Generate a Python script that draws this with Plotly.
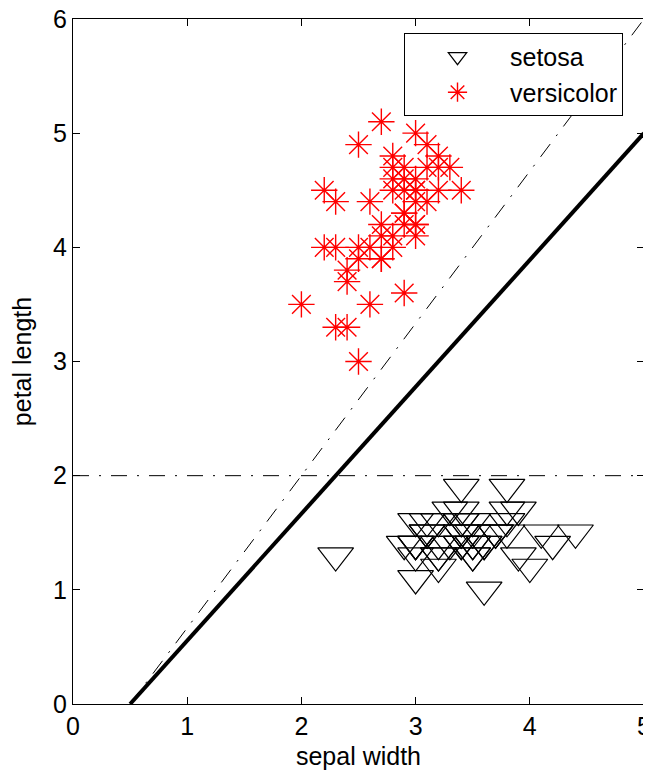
import plotly.graph_objects as go

# Fisher iris: sepal width vs petal length
setosa_sw = [3.5, 3.0, 3.2, 3.1, 3.6, 3.9, 3.4, 3.4, 2.9, 3.1, 3.7, 3.4, 3.0, 3.0, 4.0,
             4.4, 3.9, 3.5, 3.8, 3.8, 3.4, 3.7, 3.6, 3.3, 3.4, 3.0, 3.4, 3.5, 3.4, 3.2,
             3.1, 3.4, 4.1, 4.2, 3.1, 3.2, 3.5, 3.6, 3.0, 3.4, 3.5, 2.3, 3.2, 3.5, 3.8,
             3.0, 3.8, 3.2, 3.7, 3.3]
setosa_pl = [1.4, 1.4, 1.3, 1.5, 1.4, 1.7, 1.4, 1.5, 1.4, 1.5, 1.5, 1.6, 1.4, 1.1, 1.2,
             1.5, 1.3, 1.4, 1.7, 1.5, 1.7, 1.5, 1.0, 1.7, 1.9, 1.6, 1.6, 1.5, 1.4, 1.6,
             1.6, 1.5, 1.5, 1.4, 1.5, 1.2, 1.3, 1.4, 1.3, 1.5, 1.3, 1.3, 1.3, 1.6, 1.9,
             1.4, 1.6, 1.4, 1.5, 1.4]
versicolor_sw = [3.2, 3.2, 3.1, 2.3, 2.8, 2.8, 3.3, 2.4, 2.9, 2.7, 2.0, 3.0, 2.2, 2.9, 2.9,
                 3.1, 3.0, 2.7, 2.2, 2.5, 3.2, 2.8, 2.5, 2.8, 2.9, 3.0, 2.8, 3.0, 2.9, 2.6,
                 2.4, 2.4, 2.7, 2.7, 3.0, 3.4, 3.1, 2.3, 3.0, 2.5, 2.6, 3.0, 2.6, 2.3, 2.7,
                 3.0, 2.9, 2.9, 2.5, 2.8]
versicolor_pl = [4.7, 4.5, 4.9, 4.0, 4.6, 4.5, 4.7, 3.3, 4.6, 3.9, 3.5, 4.2, 4.0, 4.7, 3.6,
                 4.4, 4.5, 4.1, 4.5, 3.9, 4.8, 4.0, 4.9, 4.7, 4.3, 4.4, 4.8, 5.0, 4.5, 3.5,
                 3.8, 3.7, 3.9, 5.1, 4.5, 4.5, 4.7, 4.4, 4.1, 4.0, 4.4, 4.6, 4.0, 3.3, 4.2,
                 4.2, 4.2, 4.3, 3.0, 4.1]

# decision boundaries
solid_x = [0.5, 5.0]
solid_y = [0.0, 5.0]
dashdot_x = [0.5, 5.0]
dashdot_y = [0.0, 6.0]
horiz_x = [0.0, 5.0]
horiz_y = [2.0, 2.0]

x_ticks = [0, 1, 2, 3, 4, 5]
y_ticks = [0, 1, 2, 3, 4, 5, 6]

FONT = "Liberation Sans, Arial, sans-serif"
DASHDOT = "16px,10px,2px,10px"

fig = go.Figure()
fig.add_trace(go.Scatter(
    x=setosa_sw, y=setosa_pl, mode="markers", name="setosa",
    marker=dict(symbol="triangle-down-open", size=31, color="black",
                line=dict(color="black", width=1.2)),
))
fig.add_trace(go.Scatter(
    x=versicolor_sw, y=versicolor_pl, mode="markers", name="versicolor",
    marker=dict(symbol="asterisk-open", size=22, color="red",
                line=dict(color="red", width=1.4)),
))
fig.add_trace(go.Scatter(
    x=horiz_x, y=horiz_y, mode="lines", showlegend=False,
    line=dict(color="black", width=1, dash=DASHDOT),
))
fig.add_trace(go.Scatter(
    x=dashdot_x, y=dashdot_y, mode="lines", showlegend=False,
    line=dict(color="black", width=1, dash=DASHDOT),
))
fig.add_trace(go.Scatter(
    x=solid_x, y=solid_y, mode="lines", showlegend=False,
    line=dict(color="black", width=4),
))

axis_common = dict(
    showgrid=False, zeroline=False, showline=True, linecolor="black", linewidth=1,
    mirror="ticks", ticks="inside", ticklen=7, tickwidth=1, tickcolor="black",
    tickfont=dict(family=FONT, size=25, color="black"), automargin=False,
    ticklabeloverflow="allow",
)

# page body has an 8px margin: size/margins compensate so the plot area
# lands at x 73..644, y 19..704 in the 651x773 window
fig.update_layout(
    width=643, height=765,
    margin=dict(l=65, r=7, t=11, b=69),
    paper_bgcolor="white", plot_bgcolor="white",
    font=dict(family=FONT, size=25, color="black"),
    xaxis=dict(range=[0, 5], tickvals=x_ticks, ticktext=[str(v) for v in x_ticks],
               title=dict(text="sepal width", font=dict(family=FONT, size=25), standoff=8),
               **axis_common),
    yaxis=dict(range=[0, 6], tickvals=y_ticks, ticktext=[str(v) for v in y_ticks],
               title=dict(text="petal length", font=dict(family=FONT, size=25), standoff=14),
               **axis_common),
    legend=dict(x=0.5797, y=0.9796, xanchor="left", yanchor="top",
                bordercolor="black", borderwidth=1, bgcolor="white",
                font=dict(family=FONT, size=25, color="black"),
                itemwidth=95, tracegroupgap=0),
    showlegend=True,
)

fig.write_html("out.html")
